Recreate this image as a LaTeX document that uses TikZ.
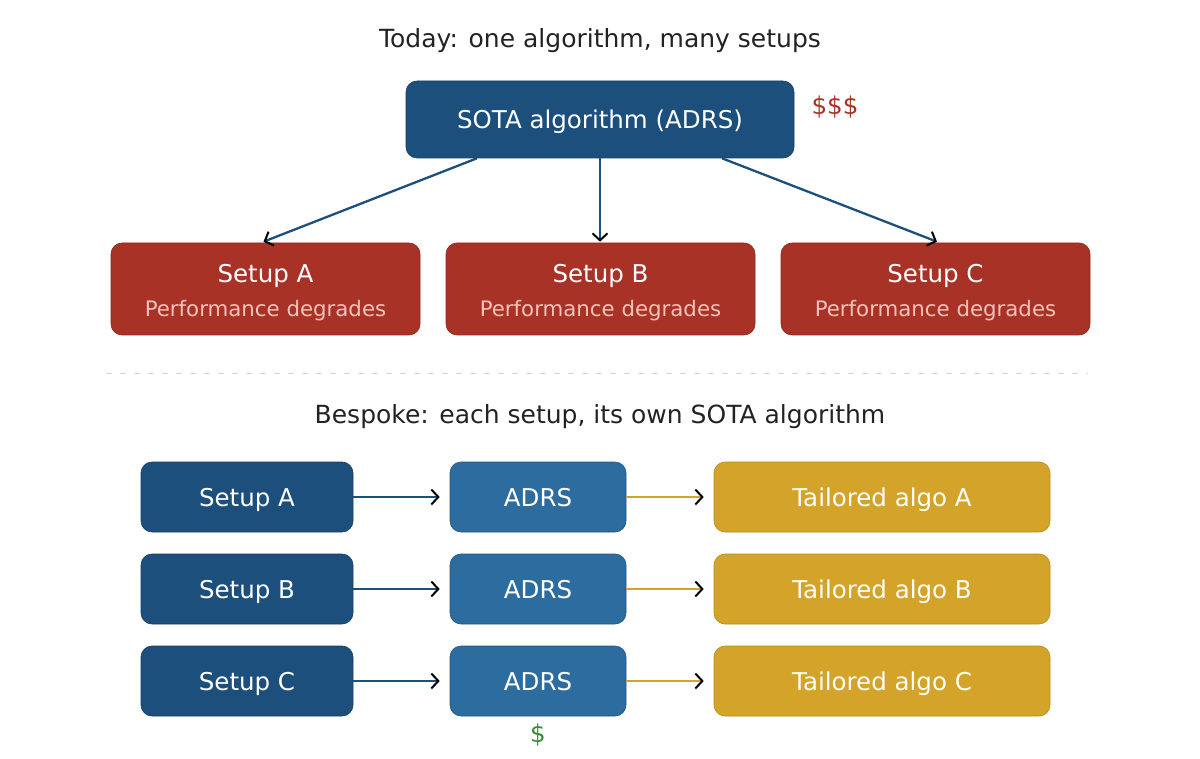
\documentclass[tikz,border=0pt]{standalone}
\usepackage{fontspec}
\setmainfont{DejaVu Sans}
\usetikzlibrary{arrows.meta,calc}
\definecolor{dblue}{HTML}{1C4F7C}
\definecolor{dblueb}{HTML}{163F63}
\definecolor{mblue}{HTML}{2C6C9E}
\definecolor{mblueb}{HTML}{235780}
\definecolor{cred}{HTML}{A93226}
\definecolor{credb}{HTML}{8A271E}
\definecolor{gold}{HTML}{D4A32A}
\definecolor{goldb}{HTML}{B88B1C}
\definecolor{pinktxt}{HTML}{F3C2BA}
\definecolor{ttl}{HTML}{222222}
\definecolor{dollargreen}{HTML}{3A8A3A}
\tikzset{
  x=1pt, y=-1pt,
  box/.style={rounded corners=11pt, inner sep=0pt, text=white, font=\fontsize{24.5}{28}\selectfont, line width=0.6pt, text depth=0pt},
  sotabox/.style={box, fill=dblue, draw=dblueb, minimum width=388pt, minimum height=77pt},
  redbox/.style={box, fill=cred, draw=credb, minimum width=309pt, minimum height=92pt},
  setbox/.style={box, fill=dblue, draw=dblueb, minimum width=212pt, minimum height=70pt},
  adrsbox/.style={box, fill=mblue, draw=mblueb, minimum width=176pt, minimum height=70pt},
  tailbox/.style={box, fill=gold, draw=goldb, minimum width=336pt, minimum height=70pt},
  ttlstyle/.style={text=ttl, font=\fontsize{25}{28}\selectfont, text depth=0pt},
  lbl/.style={text depth=0pt},
  conn/.style={line width=2.3pt, -{Straight Barb[color=black, length=7pt, width=15pt, line width=2pt]}},
}
\begin{document}
\begin{tikzpicture}
\useasboundingbox (0,0) rectangle (1200,759);
\node[ttlstyle] (t1) at (600,38) {Today: one algorithm, many setups};
\node[sotabox] (sota) at (600,119.5) {SOTA algorithm (ADRS)};
\node[lbl, text=cred, font=\fontsize{24.5}{28}\selectfont] (cost1) at (835,105) {\$\$\$};
\foreach \n/\x in {A/265.5,B/600.5,C/935.5}{
  \node[redbox] (r\n) at (\x,289) {};
  \node[lbl, text=white, font=\fontsize{24.5}{28}\selectfont] (r\n t) at (\x,273) {Setup \n};
  \node[lbl, text=pinktxt, font=\fontsize{21.3}{24}\selectfont] (r\n s) at (\x,308) {Performance degrades};
}
\draw[conn, draw=dblue] ($(sota.south)+(-123,0)$) -- ($(rA.north)+(-2,-1)$);
\draw[conn, draw=dblue] (sota.south) -- ($(rB.north)+(-0.5,-1)$);
\draw[conn, draw=dblue] ($(sota.south)+(122,0)$) -- ($(rC.north)+(1.5,-1)$);
\draw[draw=black!17, line width=1pt, dash pattern=on 6pt off 8pt] (106,374) coordinate (dl) -- (1088,374) coordinate (dr);
\node[ttlstyle] (t2) at (600,414) {Bespoke: each setup, its own SOTA algorithm};
\foreach \n/\y in {A/497,B/589,C/681}{
  \node[setbox] (s\n) at (247,\y) {Setup \n};
  \node[adrsbox] (a\n) at (538,\y) {ADRS};
  \node[tailbox] (g\n) at (882,\y) {Tailored algo \n};
  \draw[conn, draw=dblue] (s\n.east) -- ($(a\n.west)+(-10,0)$);
  \draw[conn, draw=gold] (a\n.east) -- ($(g\n.west)+(-10,0)$);
}
\node[lbl, text=dollargreen, font=\fontsize{24.5}{28}\selectfont] (cost2) at (538,733) {\$};
\end{tikzpicture}
\end{document}
